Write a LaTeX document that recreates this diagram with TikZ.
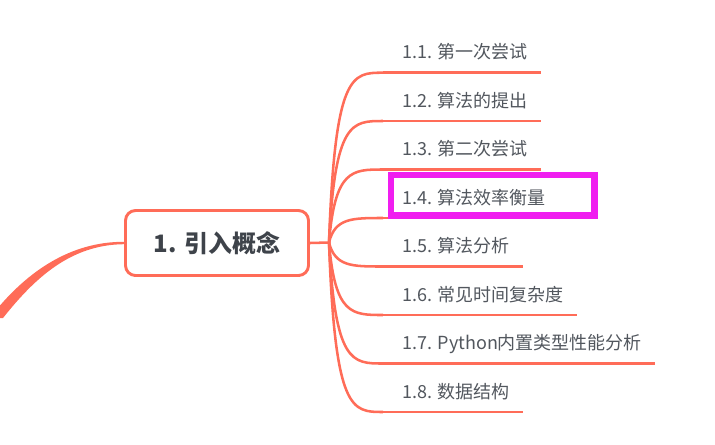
\documentclass[tikz,border=0pt]{standalone}
\usepackage{fontspec}
\setmainfont{Noto Sans CJK SC}
\usetikzlibrary{positioning}
\definecolor{branch}{RGB}{255,108,88}
\definecolor{txt}{RGB}{82,87,94}
\definecolor{ctxt}{RGB}{62,67,74}
\definecolor{hl}{RGB}{240,30,240}
\begin{document}
\begin{tikzpicture}[x=0.75pt,y=-0.75pt,
  leaf/.style={anchor=base west,inner sep=0pt,text=txt,font=\fontsize{13.5pt}{16pt}\selectfont},
  central/.style={draw=branch,line width=2.2pt,rounded corners=7.5pt,minimum width=183*0.75pt,minimum height=65*0.75pt,text=ctxt,font=\fontsize{18pt}{21pt}\selectfont\bfseries},
  link/.style={draw=branch,line width=1.9pt},
  uline/.style={draw=branch,line width=2.1pt},
  hlbox/.style={draw=hl,line width=4.8pt}]
\useasboundingbox (0,0) rectangle (715,444);
% left incoming tapered branch
\fill[branch] (124,241.8) .. controls (70,241.6) and (28,272) .. (-3,309) -- (-3,318) -- (3,318) .. controls (34,279) and (70,244.6) .. (124,244.2) -- cycle;
\node[central] (c) at (217,243) {1. 引入概念};
\coordinate (f) at (329,242.5);
\draw[link] (c.east) -- (f);
% leaves
\foreach \i/\y/\e/\t in {1/72.7/541/{1.1. 第一次尝试},2/121/541/{1.2. 算法的提出},3/169.5/541/{1.3. 第二次尝试},4/218/560/{1.4. 算法效率衡量},5/266.5/523/{1.5. 算法分析},6/315/577/{1.6. 常见时间复杂度},7/363.5/655/{1.7. Python内置类型性能分析},8/412/523/{1.8. 数据结构}}{
  \node[leaf] (l\i) at (402,\y-14) {\t};
  \coordinate (s\i) at (383,\y);
  \coordinate (e\i) at (\e,\y);
  \draw[link] (f) .. controls (335,\y) and (352,\y) .. (s\i);
  \draw[uline] (s\i) -- (e\i);
}
\draw[hlbox] (391,175) rectangle (594.5,215.5);
\end{tikzpicture}
\end{document}
